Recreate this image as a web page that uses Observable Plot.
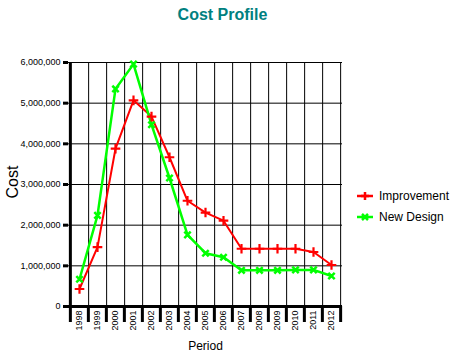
<!DOCTYPE html>
<html>
<head>
<meta charset="utf-8">
<script src="https://cdn.jsdelivr.net/npm/d3@7"></script>
<script src="https://cdn.jsdelivr.net/npm/@observablehq/plot@0.6"></script>
<style>
  html, body { margin: 0; padding: 0; background: #ffffff; }
  #wrap { position: relative; width: 455px; height: 356px; font-family: "Liberation Sans", Arial, sans-serif; }
  #title { position: absolute; left: 0; width: 445px; top: 6px; text-align: center; font-size: 16px; font-weight: bold; color: #008080; }
  .leg { position: absolute; left: 357px; font-size: 12px; color: #000; display: flex; align-items: center; }
  .leg svg { margin-right: 6px; }
</style>
</head>
<body>
<div id="wrap">
  <div id="chart"></div>
  <div id="title">Cost Profile</div>
  <div class="leg" style="top:189px"><svg width="16" height="12"><line x1="0" y1="6" x2="16" y2="6" stroke="#ff0000" stroke-width="2.5"/><path d="M8,2V10M4,6H12" stroke="#ff0000" stroke-width="2.5"/></svg>Improvement</div>
  <div class="leg" style="top:210px"><svg width="16" height="12"><line x1="0" y1="6" x2="16" y2="6" stroke="#00ff00" stroke-width="2.5"/><path d="M5,3L11,9M11,3L5,9" stroke="#00ff00" stroke-width="2.5"/></svg>New Design</div>
</div>
<script>
const years = ["1998","1999","2000","2001","2002","2003","2004","2005","2006","2007","2008","2009","2010","2011","2012"];
const improvement = [430000, 1460000, 3880000, 5070000, 4670000, 3670000, 2600000, 2310000, 2110000, 1420000, 1420000, 1420000, 1420000, 1340000, 1020000];
const newDesign = [670000, 2240000, 5350000, 5960000, 4470000, 3160000, 1760000, 1310000, 1210000, 890000, 890000, 890000, 900000, 900000, 750000];
const yTicks = [0, 1000000, 2000000, 3000000, 4000000, 5000000, 6000000];

const W = 455, H = 356;
const mL = 68, mR = 113, mT = 62, mB = 50;
const step = (W - mL - mR) / years.length;

const impData = years.map((p, i) => ({period: p, cost: improvement[i]}));
const newData = years.map((p, i) => ({period: p, cost: newDesign[i]}));

const chart = Plot.plot({
  width: W, height: H,
  marginLeft: mL, marginRight: mR, marginTop: mT, marginBottom: mB,
  style: {fontFamily: "'Liberation Sans', Arial, sans-serif", background: "#ffffff", color: "#000"},
  x: {type: "point", domain: years, padding: 0.5, label: null},
  y: {domain: [0, 6000000], label: null},
  marks: [
    // horizontal gridlines
    Plot.ruleY(yTicks.slice(1), {stroke: "#000", strokeWidth: 1}),
    // vertical gridlines at band boundaries
    Plot.ruleX(years, {x: d => d, dx: step / 2, stroke: "#000", strokeWidth: 1}),
    // bottom ticks at band boundaries
    Plot.ruleX(years, {x: d => d, y1: 0, y2: 0, insetBottom: -16, dx: -step / 2, stroke: "#000", strokeWidth: 3}),
    Plot.ruleX([years[years.length - 1]], {x: d => d, y1: 0, y2: 0, insetBottom: -16, dx: step / 2, stroke: "#000", strokeWidth: 3}),
    // left axis line
    Plot.ruleX([years[0]], {x: d => d, dx: -step / 2, stroke: "#000", strokeWidth: 3}),
    // bottom axis line
    Plot.ruleY([0], {stroke: "#000", strokeWidth: 3}),
    Plot.axisY({ticks: yTicks, tickFormat: d3.format(","), tickSize: 5, tickPadding: 3, strokeWidth: 3, fontSize: 9}),
    Plot.axisX({tickRotate: -90, tickSize: 0, tickPadding: 4, fontSize: 9}),
    // series
    Plot.line(impData, {x: "period", y: "cost", stroke: "#ff0000", strokeWidth: 2}),
    Plot.line(newData, {x: "period", y: "cost", stroke: "#00ff00", strokeWidth: 2.5}),
    Plot.dot(impData, {x: "period", y: "cost", symbol: "plus", r: 3.2, stroke: "#ff0000", strokeWidth: 2.2}),
    Plot.dot(newData, {x: "period", y: "cost", symbol: "times", r: 3, stroke: "#00ff00", strokeWidth: 2.5}),
    // axis titles
    Plot.text(["Cost"], {frameAnchor: "left", rotate: -90, dx: -56, dy: 14, fontSize: 16}),
    Plot.text(["Period"], {frameAnchor: "bottom", dy: 43, fontSize: 12})
  ]
});
document.getElementById("chart").appendChild(chart);
</script>
</body>
</html>
